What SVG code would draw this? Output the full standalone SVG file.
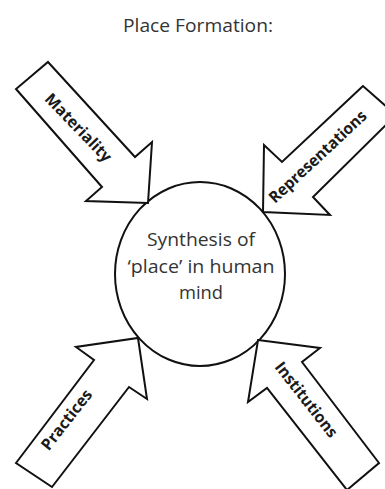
<svg xmlns="http://www.w3.org/2000/svg" width="385" height="489" viewBox="0 0 385 489">
<style>
.arrow{fill:#fff;stroke:#111;stroke-width:2;stroke-linejoin:miter}
.lbl{font-family:"Open Sans","Liberation Sans",sans-serif;font-size:16px;font-weight:bold;fill:#1a1a1a;text-anchor:middle}
.ctr{font-family:"Open Sans","Liberation Sans",sans-serif;font-size:19px;fill:#333;text-anchor:middle}
.title{font-family:"Open Sans","Liberation Sans",sans-serif;font-size:18px;fill:#333;text-anchor:middle}
</style>
<rect width="385" height="489" fill="#fff"/>
<text class="title" x="198" y="32" textLength="150" lengthAdjust="spacingAndGlyphs">Place Formation:</text>
<g id="synthesis">
<ellipse cx="200" cy="274" rx="85" ry="92" fill="#fff" stroke="#111" stroke-width="2"/>
<text class="ctr" x="201" y="246" textLength="108" lengthAdjust="spacingAndGlyphs">Synthesis of</text>
<text class="ctr" x="201" y="273" textLength="147" lengthAdjust="spacingAndGlyphs">‘place’ in human</text>
<text class="ctr" x="201" y="299" textLength="44" lengthAdjust="spacingAndGlyphs">mind</text>
</g>
<g id="connectors">
<g id="materiality">
<polygon class="arrow" points="48,62 135,157 152,142 148,203 86,201 102,187 16,89"/>
<text class="lbl" transform="translate(78,128) rotate(46)" y="5" textLength="88" lengthAdjust="spacingAndGlyphs">Materiality</text>
</g>
<g id="representations">
<polygon class="arrow" points="363,86 282,162 264,145 263,212 330,215 313,197 396,115"/>
<text class="lbl" transform="translate(318,157) rotate(-43)" y="5" textLength="127" lengthAdjust="spacingAndGlyphs">Representations</text>
</g>
<g id="practices">
<polygon class="arrow" points="16,463 94,360 76,347 138,338 147,399 129,387 52,487"/>
<text class="lbl" transform="translate(67,420) rotate(-52)" y="5" textLength="72" lengthAdjust="spacingAndGlyphs">Practices</text>
</g>
<g id="institutions">
<polygon class="arrow" points="258,340 320,348 302,362 379,463 347,490 267,388 248,402"/>
<text class="lbl" transform="translate(306,400) rotate(52)" y="5" textLength="91" lengthAdjust="spacingAndGlyphs">Institutions</text>
</g>
</g>
</svg>
